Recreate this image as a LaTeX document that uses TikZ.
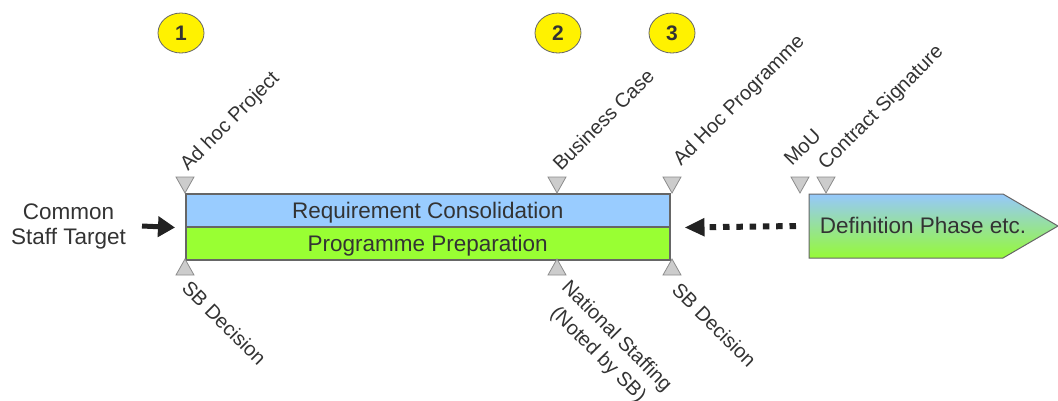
\documentclass[tikz,border=0pt]{standalone}
\usepackage{fontspec}
\setmainfont{Liberation Sans}
\usetikzlibrary{arrows.meta,shapes.geometric}
\definecolor{rcblue}{RGB}{153,204,255}
\definecolor{ppgreen}{RGB}{153,255,51}
\definecolor{defblue}{RGB}{150,200,252}
\definecolor{defgreen}{RGB}{150,250,55}
\definecolor{txt}{RGB}{51,51,51}
\definecolor{edge}{RGB}{102,102,102}
\definecolor{trifill}{RGB}{204,204,204}
\definecolor{triedge}{RGB}{140,140,140}
\definecolor{arr}{RGB}{34,34,34}
\begin{document}
\begin{tikzpicture}[x=1pt,y=-1pt,
  mainfont/.style={font=\fontsize{22.5}{25}\selectfont, text=txt},
  lbl/.style={font=\fontsize{20}{26}\selectfont, text=txt, inner sep=0pt},
  band/.style={draw=edge, line width=1.5pt, minimum width=484pt, minimum height=33pt,
    anchor=north west, inner sep=0pt, mainfont, text height=16pt, text depth=0pt},
  tri/.style={fill=trifill, draw=triedge, line width=0.8pt, line join=miter},
  num/.style={ellipse, draw=edge, fill=yellow, minimum width=46pt, minimum height=40pt,
    inner sep=0pt, line width=0.8pt, text=txt, font=\fontsize{21}{24}\selectfont\bfseries},
  bigarrow/.style={draw=arr, line width=5pt, -{Triangle[length=17pt,width=20pt]}},
  dotarrow/.style={draw=arr, line width=6pt, dash pattern=on 6.5pt off 6.8pt,
    -{Triangle[length=20pt,width=17pt]}}
]
\useasboundingbox (0,0) rectangle (1058,400);

% numbered markers
\node[num] (n1) at (181,33) {1};
\node[num] (n2) at (558,33) {2};
\node[num] (n3) at (672,33) {3};

% bands
\node[band, fill=rcblue] (rc) at (185,193) {Requirement Consolidation};
\node[band, fill=ppgreen] (pp) at (185,226) {Programme Preparation};

% definition phase
\shadedraw[top color=defblue, bottom color=defgreen, draw=edge, line width=1pt]
  (809,194) -- (1003,194) -- (1058,226) -- (1003,258) -- (809,258) -- cycle;
\node[mainfont, inner sep=0pt, text height=16pt, text depth=0pt] (def) at (923,225.5) {Definition Phase etc.};
\coordinate (defw) at (796,226);

% triangles
\foreach \x in {185,557,672,800,826}
  \draw[tri] (\x,193) -- ++(-9,-16) -- ++(18,0) -- cycle;
\foreach \x in {185,557,672}
  \draw[tri] (\x,259) -- ++(-9,16) -- ++(18,0) -- cycle;

% top labels
\node[lbl, rotate=45, anchor=base west] (t1) at (188,172) {Ad hoc Project};
\node[lbl, rotate=45, anchor=base west] (t2) at (561,172) {Business Case};
\node[lbl, rotate=45, anchor=base west] (t3) at (681,167) {Ad Hoc Programme};
\node[lbl, rotate=45, anchor=base west] (t4) at (792,167) {MoU};
\node[lbl, rotate=45, anchor=base west] (t5) at (826,171) {Contract Signature};

% bottom labels
\node[lbl, rotate=-45, anchor=north west] (b1) at (191,279) {SB Decision};
\node[lbl, rotate=-45, anchor=north west, align=center] (b2) at (571,278) {National Staffing\\(Noted by SB)};
\node[lbl, rotate=-45, anchor=north west] (b3) at (681,281) {SB Decision};

% common staff target
\node[mainfont, align=center, inner sep=0pt, anchor=north] (cst) at (68.5,203.5) {Common\\Staff Target};
\coordinate (ain) at (142,226);

% connectors
\draw[bigarrow] (ain) -- ([xshift=-10pt]rc.south west);
\draw[dotarrow] (defw) -- ([xshift=14pt]rc.south east);
\end{tikzpicture}
\end{document}
